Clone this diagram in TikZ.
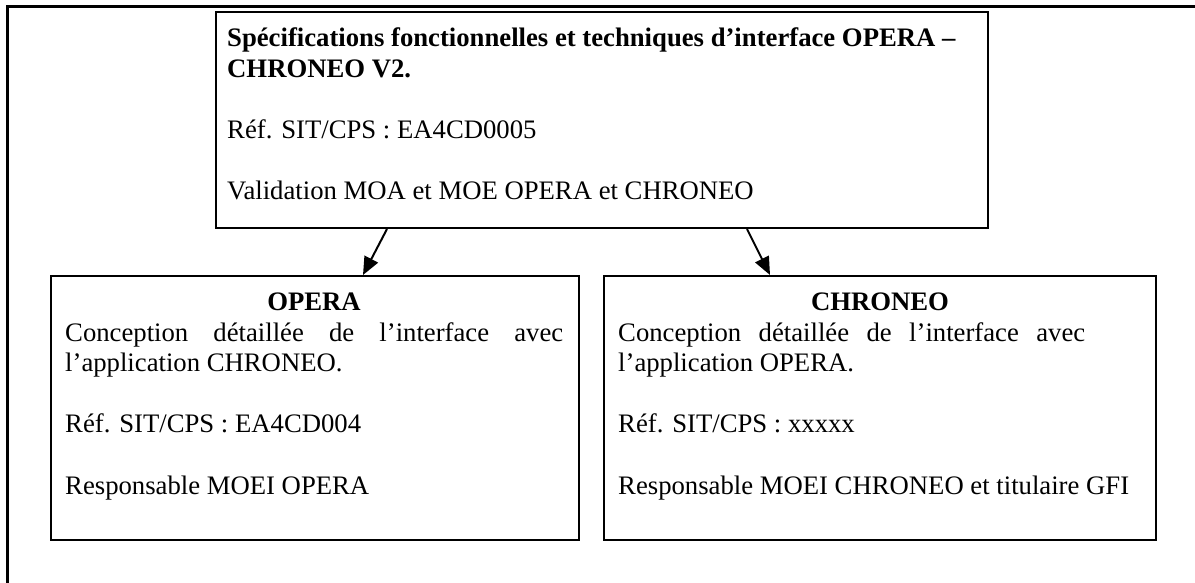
\documentclass[tikz,border=0pt]{standalone}
\usepackage{fontspec}
\setmainfont{Liberation Serif}
\usetikzlibrary{arrows.meta}
\begin{document}
\begin{tikzpicture}[x=1pt,y=-1pt,
  box/.style={draw=black,line width=2pt,rectangle,inner sep=0pt,anchor=north west},
  txt/.style={anchor=base west,inner sep=0pt,text height=17pt,text depth=5pt,font=\fontsize{26.7}{30}\selectfont},
  ctxt/.style={txt,anchor=base,font=\fontsize{26.7}{30}\selectfont\bfseries},
  arr/.style={line width=2pt,-{Triangle[length=18pt,width=15pt]}}]
\useasboundingbox (0,0) rectangle (1195,583);
% outer frame (only top and left sides visible)
\draw[line width=3pt] (7,583) -- (7,7) -- (1195,7);
% boxes
\node[box,minimum width=772pt,minimum height=216pt] (top) at (215,11) {};
\node[box,minimum width=528pt,minimum height=264pt] (left) at (50,275) {};
\node[box,minimum width=552pt,minimum height=264pt] (right) at (603,275) {};
% top box text
\node[txt] (t1) at (227,47) {\bfseries Spécifications fonctionnelles et techniques d’interface OPERA –};
\node[txt] (t2) at (227,78) {\bfseries CHRONEO V2.};
\node[txt] (t3) at (227,139) {Réf. SIT/CPS : EA4CD0005};
\node[txt] (t4) at (227,200) {Validation MOA et MOE OPERA et CHRONEO};
% left box text
\node[ctxt] (l0) at (314,310) {OPERA};
\node[txt] (l1) at (65,341) {\makebox[498pt][s]{Conception détaillée de l’interface avec}};
\node[txt] (l2) at (65,371) {l’application CHRONEO.};
\node[txt] (l3) at (65,432) {Réf. SIT/CPS : EA4CD004};
\node[txt] (l4) at (65,494) {Responsable MOEI OPERA};
% right box text
\node[ctxt] (r0) at (880,310) {CHRONEO};
\node[txt] (r1) at (618,341) {\makebox[467pt][s]{Conception détaillée de l’interface avec}};
\node[txt] (r2) at (618,371) {l’application OPERA.};
\node[txt] (r3) at (618,432) {Réf. SIT/CPS : xxxxx};
\node[txt] (r4) at (618,494) {Responsable MOEI CHRONEO et titulaire GFI};
% arrows
\draw[arr] ([xshift=172pt]top.south west) -- ([xshift=313pt]left.north west);
\draw[arr] ([xshift=532pt]top.south west) -- ([xshift=167pt]right.north west);
\end{tikzpicture}
\end{document}
